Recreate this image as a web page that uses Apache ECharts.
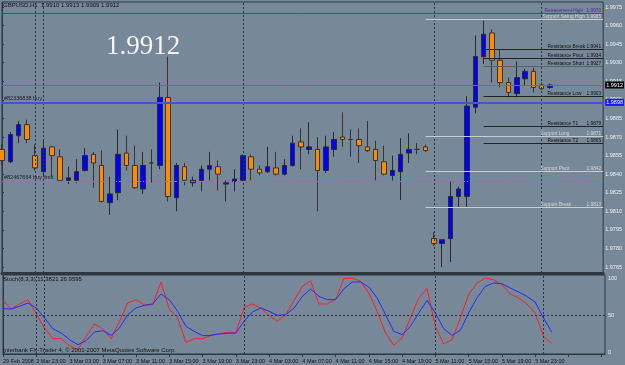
<!DOCTYPE html>
<html>
<head>
<meta charset="utf-8">
<script src="https://cdn.jsdelivr.net/npm/echarts@6/dist/echarts.min.js"></script>
<style>
  html, body { margin: 0; padding: 0; background: #778899; }
  #chart { width: 625px; height: 365px; }
</style>
</head>
<body>
<div id="chart"></div>
<script>
// GBPUSD H1 bars, one entry per bar (index = position on the x axis)
const opens = [1.9860, 1.9850, 1.9871, 1.9880, 1.9855, 1.9842, 1.9862, 1.9854, 1.9835, 1.9835,
  1.9843, 1.9856, 1.9847, 1.9817, 1.9825, 1.9857, 1.9847, 1.9828, 1.9849, 1.9847,
  1.9902, 1.9821, 1.9846, 1.9833, 1.9835, 1.9844, 1.9846, 1.9832, 1.9834, 1.9835,
  1.9854, 1.9844, 1.9842, 1.9845, 1.9840, 1.9847, 1.9866, 1.9860, 1.9860, 1.9843,
  1.9860, 1.9870, 1.9868, 1.9868, 1.9862, 1.9860, 1.9850, 1.9839, 1.9842, 1.9857,
  1.9860, 1.9862, 1.9788, 1.9784, 1.9788, 1.9822, 1.9822, 1.9894, 1.9935, 1.9954,
  1.9932, 1.9914, 1.9905, 1.9917, 1.9923, 1.9912, 1.9910];
const highs = [1.9864, 1.9874, 1.9883, 1.9884, 1.9864, 1.9868, 1.9863, 1.9860, 1.9846, 1.9852,
  1.9861, 1.9858, 1.9859, 1.9838, 1.9876, 1.9871, 1.9863, 1.9858, 1.9860, 1.9914,
  1.9935, 1.9849, 1.9849, 1.9838, 1.9847, 1.9858, 1.9851, 1.9835, 1.9844, 1.9856,
  1.9856, 1.9847, 1.9862, 1.9858, 1.9852, 1.9871, 1.9877, 1.9882, 1.9870, 1.9871,
  1.9874, 1.9890, 1.9876, 1.9877, 1.9883, 1.9867, 1.9863, 1.9855, 1.9869, 1.9873,
  1.9865, 1.9864, 1.9793, 1.9787, 1.9834, 1.9830, 1.9903, 1.9952, 1.9964, 1.9957,
  1.9941, 1.9918, 1.9931, 1.9925, 1.9926, 1.9914, 1.9913];
const lows = [1.9847, 1.9849, 1.9865, 1.9865, 1.9843, 1.9838, 1.9838, 1.9834, 1.9832, 1.9833,
  1.9842, 1.9829, 1.9817, 1.9807, 1.9819, 1.9843, 1.9828, 1.9824, 1.9833, 1.9844,
  1.9818, 1.9810, 1.9831, 1.9830, 1.9826, 1.9835, 1.9827, 1.9818, 1.9826, 1.9834,
  1.9835, 1.9839, 1.9841, 1.9839, 1.9839, 1.9846, 1.9844, 1.9856, 1.9810, 1.9841,
  1.9854, 1.9862, 1.9854, 1.9849, 1.9858, 1.9835, 1.9839, 1.9835, 1.9819, 1.9849,
  1.9856, 1.9858, 1.9782, 1.9765, 1.9769, 1.9813, 1.9813, 1.9889, 1.9929, 1.9914,
  1.9910, 1.9902, 1.9902, 1.9912, 1.9906, 1.9908, 1.9909];
const closes = [1.9851, 1.9872, 1.9880, 1.9868, 1.9845, 1.9861, 1.9855, 1.9835, 1.9837, 1.9842,
  1.9855, 1.9849, 1.9818, 1.9824, 1.9856, 1.9847, 1.9829, 1.9847, 1.9849, 1.9902,
  1.9822, 1.9847, 1.9835, 1.9835, 1.9844, 1.9847, 1.9840, 1.9833, 1.9836, 1.9855,
  1.9844, 1.9841, 1.9846, 1.9840, 1.9847, 1.9865, 1.9862, 1.9862, 1.9843, 1.9862,
  1.9868, 1.9868, 1.9868, 1.9863, 1.9859, 1.9851, 1.9840, 1.9843, 1.9856, 1.9860,
  1.9860, 1.9859, 1.9784, 1.9787, 1.9822, 1.9828, 1.9895, 1.9935, 1.9953, 1.9932,
  1.9914, 1.9906, 1.9918, 1.9923, 1.9910, 1.9909, 1.9912];

// Stochastic(8,3,3)
const stochMain = [69.4, 58.1, 64.9, 70.7, 51.4, 32.4, 18.0, 18.0, 8.6, 3.2,
  21.2, 37.8, 31.5, 18.0, 41.4, 66.2, 70.7, 63.5, 64.0, 94.6,
  58.1, 45.9, 13.1, 18.0, 18.0, 22.5, 24.8, 26.6, 25.7, 60.4,
  64.9, 59.5, 49.5, 41.4, 50.5, 69.4, 88.7, 96.4, 64.9, 64.9,
  71.6, 99.0, 100.0, 95.5, 79.7, 55.0, 25.7, 9.0, 18.9, 45.9,
  73.0, 85.6, 34.7, 10.8, 16.7, 45.9, 77.5, 93.2, 100.0, 97.7,
  91.0, 78.4, 73.0, 64.9, 52.7, 21.2, 11.3821];
const stochSignal = [58.6, 58.1, 61.7, 66.2, 59.5, 45.9, 31.5, 25.7, 16.7, 9.9,
  15.3, 27.0, 28.8, 22.5, 32.4, 50.5, 59.5, 63.1, 64.9, 78.4,
  70.7, 55.0, 34.7, 27.9, 22.1, 22.5, 24.3, 25.2, 25.7, 41.4,
  54.1, 59.5, 55.0, 49.5, 50.5, 59.5, 75.2, 85.1, 75.2, 70.7,
  70.7, 85.6, 94.6, 94.6, 87.8, 73.0, 50.5, 27.9, 23.4, 34.7,
  52.7, 69.8, 52.7, 31.5, 22.5, 29.3, 52.7, 73.0, 88.7, 93.2,
  92.3, 86.5, 81.1, 75.2, 67.6, 45.9, 26.9595];

// time labels, one every 4 bars
const timeLabels = ['29 Feb 2008', '2 Mar 23:00', '3 Mar 03:00', '3 Mar 07:00', '3 Mar 11:00',
  '3 Mar 15:00', '3 Mar 19:00', '3 Mar 23:00', '4 Mar 03:00', '4 Mar 07:00', '4 Mar 11:00',
  '4 Mar 15:00', '4 Mar 19:00', '5 Mar 11:00', '5 Mar 15:00', '5 Mar 19:00', '5 Mar 23:00'];
const priceTicks = [1.9765, 1.9780, 1.9795, 1.9810, 1.9825, 1.9840, 1.9855, 1.9870,
  1.9885, 1.9900, 1.9915, 1.9930, 1.9945, 1.9960, 1.9975];
const stochTicks = [0, 50, 100];
const daySeparators = [4, 5, 29, 52, 65];

// drawn levels
const resistanceNames = ['Resistance Break', 'Resistance Pivot', 'Resistance Short', 'Resistance Low', 'Resistance T1', 'Resistance T2'];
const resistanceValues = [1.9941, 1.9934, 1.9927, 1.9903, 1.9879, 1.9865];
const supportNames = ['Support Swing High', 'Support Long', 'Support Pivot', 'Support Break'];
const supportValues = [1.9965, 1.9871, 1.9842, 1.9813];
const retracementHigh = 1.9970;
const buyOrder = 1.9898;
const buyLimit = 1.9834;

const smallFont = '"Liberation Sans Narrow", "Liberation Sans", Arial, sans-serif';
const xMax = 72.4;
const last = closes.length - 1;

const chart = echarts.init(document.getElementById('chart'));

function levelLabel(name, value, nameWidth, color) {
  return {
    show: true,
    position: 'insideEndTop',
    distance: [2, 0],
    formatter: '{n|' + name + '}{v|' + value.toFixed(4) + '}',
    rich: {
      n: { width: nameWidth, align: 'left', color: color, fontSize: 4.8, fontFamily: smallFont },
      v: { align: 'left', color: color, fontSize: 4.8, fontFamily: smallFont }
    }
  };
}

function segment(name, value, fromBar, lineColor, textColor, nameWidth) {
  return [
    { coord: [fromBar, value], lineStyle: { color: lineColor, width: 1, type: 'solid' },
      label: levelLabel(name, value, nameWidth, textColor) },
    { coord: [xMax, value] }
  ];
}

function axisBox(value, bg) {
  return {
    yAxis: value,
    lineStyle: { color: 'rgba(0,0,0,0)', width: 0 },
    label: { show: true, position: 'end', distance: 2, formatter: value.toFixed(4),
      backgroundColor: bg, color: '#fff', padding: [1, 1, 0, 1],
      fontSize: 5.5, fontFamily: smallFont }
  };
}

const levelData = [];
daySeparators.forEach(function (b) {
  levelData.push({ xAxis: b, lineStyle: { color: '#2b3440', type: [2, 2], width: 1 } });
});
levelData.push({ yAxis: retracementHigh, lineStyle: { color: '#6634b4', width: 1, type: 'solid' },
  label: levelLabel('Retracement High', retracementHigh, 42, '#5a2aa8') });
levelData.push({ yAxis: closes[last], lineStyle: { color: '#b05454', width: 1, type: 'solid' } });
levelData.push({ yAxis: buyOrder, lineStyle: { color: '#4b52c8', width: 2, type: 'solid' },
  label: { show: true, position: 'insideStartTop', distance: [2, 1], formatter: '#82336838 buy',
    color: '#1e1e1e', fontSize: 5.5, fontFamily: smallFont } });
levelData.push({ yAxis: buyLimit, lineStyle: { color: '#3faf3f', width: 1, type: [4, 2, 1, 2] },
  label: { show: true, position: 'insideStartTop', distance: [2, 1], formatter: '#82467664 buy limit',
    color: '#1e1e1e', fontSize: 5.5, fontFamily: smallFont } });
supportNames.forEach(function (n, i) {
  levelData.push(segment(n, supportValues[i], 51, '#c9cdd2', '#d4d8dc', i === 0 ? 44 : 46));
});
resistanceNames.forEach(function (n, i) {
  const c = n === 'Resistance Short' ? '#5c6166' : '#222';
  levelData.push(segment(n, resistanceValues[i], 58, c, '#111', 39));
});
levelData.push(axisBox(closes[last], '#000'));
levelData.push(axisBox(buyOrder, '#1414ff'));

const stochMarks = daySeparators.map(function (b) {
  return { xAxis: b, lineStyle: { color: '#2b3440', type: [2, 2], width: 1 } };
});
stochMarks.push({ yAxis: 50, lineStyle: { color: '#2b3440', type: [2, 2], width: 1 } });

const smallTitle = { fontSize: 6, fontWeight: 'normal', color: '#141414', fontFamily: smallFont };

chart.setOption({
  animation: false,
  backgroundColor: '#778899',
  title: [
    { text: 'GBPUSD,H1  ' + [opens[last], highs[last], lows[last], closes[last]].map(v => v.toFixed(4)).join(' '),
      left: 3, top: 2, padding: 0, textStyle: smallTitle },
    { text: closes[last].toFixed(4), left: 106, top: 33, padding: 0,
      textStyle: { fontSize: 27, fontWeight: 'normal', color: '#f6f6f6', fontFamily: '"Liberation Serif", "DejaVu Serif", serif' } },
    { text: 'Stoch(8,3,3) ' + stochMain[last].toFixed(4) + ' ' + stochSignal[last].toFixed(4),
      left: 3, top: 276, padding: 0, textStyle: smallTitle },
    { text: 'Interbank FX-Trader 4, \u00a9 2001-2007 MetaQuotes Software Corp.',
      left: 3, top: 347, padding: 0, textStyle: smallTitle }
  ],
  grid: [
    { left: 2, right: 20, top: 2, height: 271, show: true, borderColor: '#2e3640', borderWidth: 1 },
    { left: 2, right: 20, top: 275, height: 79, show: true, borderColor: '#2e3640', borderWidth: 1 }
  ],
  xAxis: [
    { type: 'value', gridIndex: 0, min: 0, max: xMax,
      axisLine: { show: true, onZero: false, lineStyle: { color: '#2e3640', width: 3 } },
      axisTick: { show: false }, axisLabel: { show: false }, splitLine: { show: false } },
    { type: 'value', gridIndex: 1, min: 0, max: xMax, interval: 4,
      axisLine: { show: true, onZero: false, lineStyle: { color: '#2e3640' } },
      axisTick: { show: true, length: 3, lineStyle: { color: '#2e3640' } },
      axisLabel: { show: true, align: 'left', margin: 4, fontSize: 5.5, color: '#141414', fontFamily: smallFont,
        showMaxLabel: false,
        formatter: function (v) { return v % 4 === 0 && timeLabels[v / 4] ? timeLabels[v / 4] : ''; } },
      splitLine: { show: false } }
  ],
  yAxis: [
    { type: 'value', gridIndex: 0, position: 'right', min: 1.976015, max: 1.997904,
      axisLine: { show: true, lineStyle: { color: '#2e3640' } },
      axisTick: { show: true, length: 2, customValues: priceTicks, lineStyle: { color: '#2e3640' } },
      axisLabel: { show: true, margin: 2, fontSize: 5.5, color: '#eef0f2', fontFamily: smallFont,
        customValues: priceTicks, formatter: v => v.toFixed(4) },
      splitLine: { show: false } },
    { type: 'value', gridIndex: 1, position: 'right', min: -2.7, max: 104.05,
      axisLine: { show: true, lineStyle: { color: '#2e3640' } },
      axisTick: { show: true, length: 2, customValues: stochTicks, lineStyle: { color: '#2e3640' } },
      axisLabel: { show: true, margin: 3, fontSize: 5.5, color: '#eef0f2', fontFamily: smallFont,
        customValues: stochTicks },
      splitLine: { show: false } }
  ],
  series: [
    { name: 'levels', type: 'line', xAxisIndex: 0, yAxisIndex: 0, data: [], z: 1,
      markLine: { silent: true, symbol: ['none', 'none'], animation: false, precision: 6,
        label: { show: false }, data: levelData } },
    { name: 'GBPUSD', type: 'candlestick', xAxisIndex: 0, yAxisIndex: 0, z: 3,
      barWidth: 5,
      itemStyle: { color: '#0000ff', color0: '#ff8c00', borderColor: '#2a2a2a', borderColor0: '#3a3330',
        borderColorDoji: '#333', borderWidth: 1 },
      data: opens.map((o, i) => [i, o, closes[i], lows[i], highs[i]]) },
    { name: 'Stoch', type: 'line', xAxisIndex: 1, yAxisIndex: 1, showSymbol: false,
      lineStyle: { color: '#ff2020', width: 1 }, z: 3,
      data: stochMain.map((v, i) => [i, v]),
      markLine: { silent: true, symbol: ['none', 'none'], precision: 4, label: { show: false }, data: stochMarks } },
    { name: 'Signal', type: 'line', xAxisIndex: 1, yAxisIndex: 1, showSymbol: false,
      lineStyle: { color: '#2a2aff', width: 1 }, z: 4,
      data: stochSignal.map((v, i) => [i, v]) }
  ]
});
</script>
</body>
</html>
